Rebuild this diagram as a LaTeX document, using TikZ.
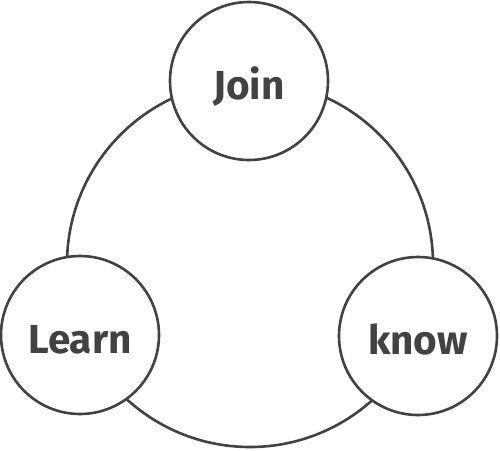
\documentclass[tikz,border=0pt]{standalone}
\usepackage{fontspec}
\setmainfont{Fira Sans}
\begin{document}
\begin{tikzpicture}[x=1pt,y=-1pt,
  ring/.style={draw=black!74,line width=2.6pt},
  bubble/.style={circle,draw=black!74,line width=2.6pt,fill=white,minimum size=158pt,inner sep=0pt,
    text height=36pt,text depth=0pt,
    font=\fontsize{40.5}{48}\selectfont\bfseries,text=black!74}]
\useasboundingbox (0,0) rectangle (500,450);
\coordinate (c) at (250,264);
\draw[ring] (c) circle[radius=183];
\node[bubble] (join) at (249,81) {Join};
\node[bubble] (learn) at (80,335) {Learn};
\node[bubble] (know) at (418,336) {know};
\end{tikzpicture}
\end{document}
